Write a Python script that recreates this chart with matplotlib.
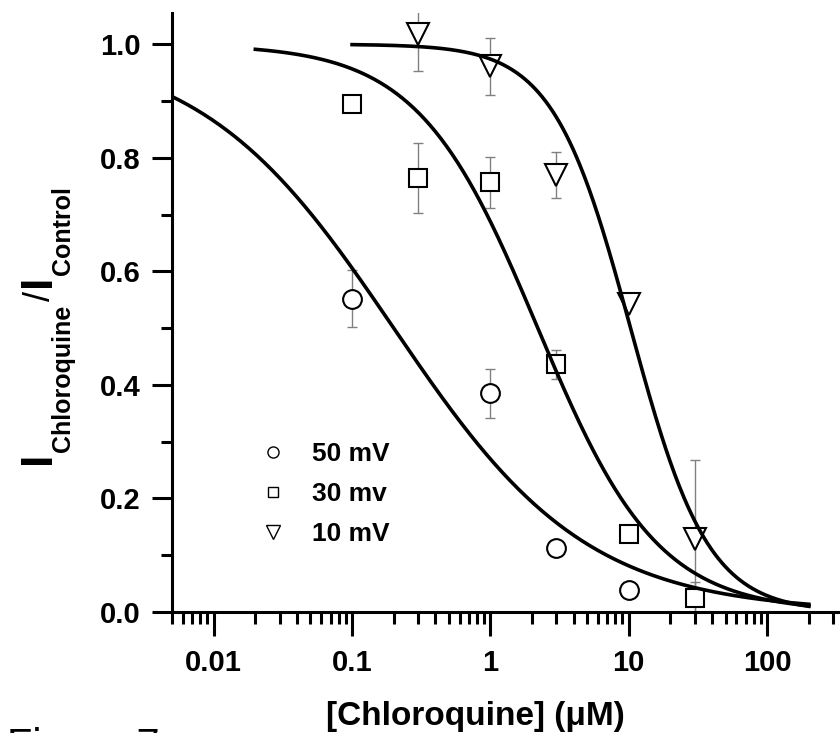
import numpy as np
import matplotlib
matplotlib.use("Agg")
import matplotlib.pyplot as plt
from matplotlib.lines import Line2D
from matplotlib.ticker import LogLocator, NullFormatter, MultipleLocator

plt.rcParams['font.family'] = ['Liberation Sans', 'DejaVu Sans']
plt.rcParams['font.weight'] = 'bold'

# data points (mean +/- error)
conc_50 = [0.1, 1, 3, 10]
resp_50 = [0.552, 0.385, 0.112, 0.038]
err_50 = [0.05, 0.043, 0.012, 0.01]

conc_30 = [0.1, 0.3, 1, 3, 10, 30]
resp_30 = [0.894, 0.764, 0.757, 0.436, 0.138, 0.024]
err_30 = [0.0, 0.062, 0.045, 0.026, 0.0, 0.028]

conc_10 = [0.3, 1, 3, 10, 30]
resp_10 = [1.018, 0.961, 0.770, 0.542, 0.128]
err_10 = [0.065, 0.05, 0.04, 0.0, 0.14]

# Hill fits: IC50 (uM), Hill coefficient, fitted range
ic50 = [0.2, 2.2, 10.3]
hill_n = [0.62, 1.0, 1.55]
fit_start = [0.005, 0.02, 0.1]
fit_end = [200, 200, 200]

labels = ['50 mV', '30 mv', '10 mV']
markers = ['o', 's', 'v']
marker_sizes = [13.5, 12.5, 16.5]
legend_sizes = [8, 7.5, 10.5]

xtick_vals = [0.01, 0.1, 1, 10, 100]
xtick_labels = ['0.01', '0.1', '1', '10', '100']
ytick_vals = [0.0, 0.2, 0.4, 0.6, 0.8, 1.0]

# y label pieces: text, font size, weight, baseline offset (px), gap after (px)
ylabel_parts = [('I', 32, 'bold', 0, 0), ('Chloroquine', 18, 'bold', 20, 3),
                ('/', 26, 'normal', 0, 4), ('I', 32, 'bold', 0, 0),
                ('Control', 18, 'bold', 20, 0)]

fig = plt.figure(figsize=(8.4, 7.33), dpi=100)
ax = fig.add_axes([0.2048, 0.1651, 0.7952, 0.8172])

series = [(conc_50, resp_50, err_50), (conc_30, resp_30, err_30), (conc_10, resp_10, err_10)]

for (xs, ys, es), m, ms in zip(series, markers, marker_sizes):
    ax.errorbar(xs, ys, yerr=es, fmt='none', ecolor='#808080', elinewidth=1.0,
                capsize=3.8, capthick=1.0, zorder=2)
    ax.plot(xs, ys, linestyle='none', marker=m, markersize=ms, markerfacecolor='white',
            markeredgecolor='black', markeredgewidth=1.5, zorder=3)

for ic, n, x0, x1 in zip(ic50, hill_n, fit_start, fit_end):
    xc = np.logspace(np.log10(x0), np.log10(x1), 400)
    yc = 1.0 / (1.0 + (xc / ic) ** n)
    ax.plot(xc, yc, color='black', linewidth=2.6, zorder=4)

ax.set_xscale('log')
ax.set_xlim(0.005, 336)
ax.set_ylim(0, 1.055)

ax.set_xticks(xtick_vals)
ax.set_xticklabels(xtick_labels)
ax.xaxis.set_minor_locator(LogLocator(base=10, subs=np.arange(2, 10)))
ax.xaxis.set_minor_formatter(NullFormatter())
ax.set_yticks(ytick_vals)
ax.set_yticklabels([f'{v:.1f}' for v in ytick_vals])
ax.yaxis.set_minor_locator(MultipleLocator(0.1))

for side in ['top', 'right']:
    ax.spines[side].set_visible(False)
for side in ['left', 'bottom']:
    ax.spines[side].set_linewidth(2.2)

ax.tick_params(axis='y', which='major', direction='out', length=14.5, width=2.2,
               labelsize=21, pad=8)
ax.tick_params(axis='y', which='minor', direction='out', length=8, width=2.2)
ax.tick_params(axis='x', which='major', direction='out', length=17, width=2.2,
               labelsize=21, pad=10)
ax.tick_params(axis='x', which='minor', direction='out', length=8.6, width=2.2)

ax.set_xlabel('[Chloroquine] (\u03bcM)', fontsize=24, fontweight='bold')
ax.xaxis.set_label_coords(0.454, -0.148)

# y label built from pieces so the subscripts can be much smaller than the "I"
renderer = fig.canvas.get_renderer()
base_x = 50
pos_y = 733 - 464
for txt, size, weight, shift, gap in ylabel_parts:
    t = fig.text(base_x + shift, pos_y, txt, fontsize=size, fontweight=weight,
                 rotation=90, rotation_mode='anchor', ha='left', va='baseline',
                 transform=None)
    ext = t.get_window_extent(renderer)
    pos_y = ext.y1 + gap

handles = [Line2D([], [], linestyle='none', marker=m, markersize=s, markerfacecolor='white',
                  markeredgecolor='black', markeredgewidth=1.0)
           for m, s in zip(markers, legend_sizes)]
ax.legend(handles, labels, loc='upper left', bbox_to_anchor=(0.131, 0.283), frameon=False,
          prop={'size': 19, 'weight': 'bold'}, handlelength=1.0, handletextpad=1.0,
          labelspacing=0.6, borderpad=0, borderaxespad=0)

fig.text(0.008, -0.034, 'Figure 7', fontsize=30, fontweight='normal', va='baseline')

fig.savefig('out.png', dpi=100)
